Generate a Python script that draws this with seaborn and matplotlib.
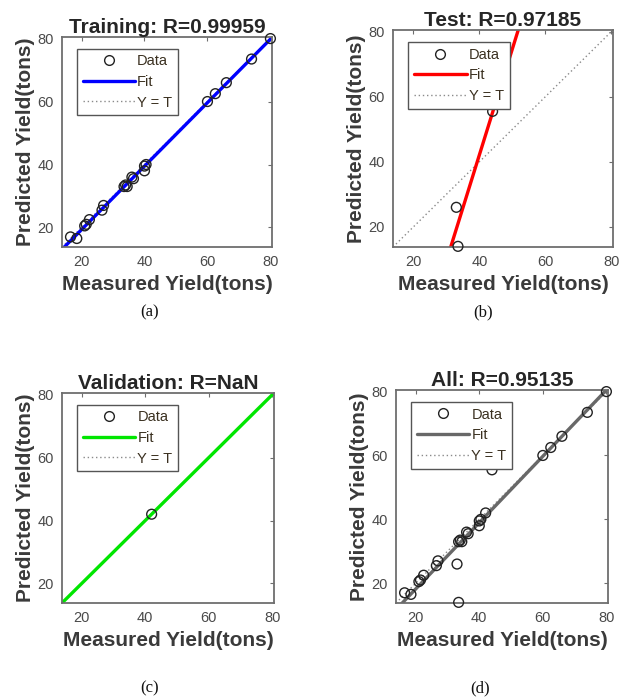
import numpy as np
import pandas as pd
import matplotlib
matplotlib.use("Agg")
import matplotlib.pyplot as plt
from matplotlib.lines import Line2D
import seaborn as sns

# ---------------- data ----------------
train_x = [16.5, 18.5, 21.0, 21.5, 22.5, 26.5, 27.0, 33.5, 34.0, 34.5, 36.0, 36.5, 40.0, 40.0, 40.5, 60.0, 62.5, 66.0, 74.0, 80.0]
train_y = [17.0, 16.5, 20.5, 21.0, 22.5, 25.5, 27.0, 33.0, 33.5, 33.0, 36.0, 35.5, 38.0, 39.5, 40.0, 60.0, 62.5, 66.0, 73.5, 80.0]
test_x = [33.0, 33.5, 44.0]
test_y = [26.0, 14.0, 55.5]
val_x = [42.0]
val_y = [42.0]

titles = ["Training: R=0.99959", "Test: R=0.97185", "Validation: R=NaN", "All: R=0.95135"]
fit_colors = ["#0000ff", "#ff0000", "#00e600", "#686868"]
captions = ["(a)", "(b)", "(c)", "(d)"]
ticks = [20, 40, 60, 80]
lims = [13.8, 80.5]

sns.set_theme(style="white")
plt.rcParams['font.family'] = ['Liberation Sans', 'DejaVu Sans']

fig = plt.figure(figsize=(6.2, 7.0), dpi=100)
W, H = 620.0, 700.0
boxes = [(62, 37, 210, 210), (393, 30, 220, 217), (62, 393, 212, 210), (396, 390, 212, 213)]
cap_pos = [(150, 312), (483, 312), (150, 688), (480, 688)]

all_x = train_x + test_x + val_x
all_y = train_y + test_y + val_y
sets = [(train_x, train_y), (test_x, test_y), (val_x, val_y), (all_x, all_y)]

spine_col = "#6e6e6e"
for i, ((xs, ys), (l, t, w, h)) in enumerate(zip(sets, boxes)):
    ax = fig.add_axes([l / W, 1 - (t + h) / H, w / W, h / H])
    df = pd.DataFrame({"x": xs, "y": ys})
    # fit line
    if len(xs) > 1:
        m, b = np.polyfit(xs, ys, 1)
    else:
        m, b = 1.0, 0.0
    fx = np.array(lims)
    fit_df = pd.DataFrame({"x": fx, "y": m * fx + b})
    # Y = T line
    yt_df = pd.DataFrame({"x": lims, "y": lims})
    sns.lineplot(data=yt_df, x="x", y="y", ax=ax, color="#8a8a8a", lw=1.0, linestyle=(0, (1, 2)), zorder=1)
    sns.lineplot(data=fit_df, x="x", y="y", ax=ax, color=fit_colors[i], lw=2.4, zorder=2)
    sns.scatterplot(data=df, x="x", y="y", ax=ax, marker="o", s=50, facecolor="none",
                    edgecolor="#222222", linewidth=1.0, zorder=3, clip_on=False)
    ax.set_xlim(lims)
    ax.set_ylim(lims)
    ax.set_xticks(ticks)
    ax.set_yticks(ticks)
    ax.tick_params(direction="in", top=True, right=True, length=3, width=0.8, color=spine_col,
                   labelsize=10.5, labelcolor="#4a4a4a", pad=6)
    for s in ax.spines.values():
        s.set_color(spine_col)
        s.set_linewidth(1.3)
    ax.set_title(titles[i], fontsize=15, fontweight="bold", color="#262626", pad=3)
    ax.set_xlabel("Measured Yield(tons)", fontsize=15, fontweight="bold", color="#3a3a3a", labelpad=4)
    ax.set_ylabel("Predicted Yield(tons)", fontsize=15, fontweight="bold", color="#3a3a3a", labelpad=2)
    handles = [
        Line2D([], [], marker="o", linestyle="none", markerfacecolor="none", markeredgecolor="#222222",
               markersize=7, markeredgewidth=1.0),
        Line2D([], [], color=fit_colors[i], lw=2.4),
        Line2D([], [], color="#8a8a8a", lw=1.0, linestyle=(0, (1, 2))),
    ]
    leg = ax.legend(handles, ["Data", "Fit", "Y = T"], loc="upper left", bbox_to_anchor=(0.07, 0.945),
                    fontsize=10.5, frameon=True, fancybox=False, framealpha=1, edgecolor="#555555",
                    handlelength=3.6, handletextpad=0.15, borderpad=0.4, labelspacing=0.45,
                    borderaxespad=0.0, labelcolor="#3a3020")
    leg.get_frame().set_linewidth(1.0)
    fig.text(cap_pos[i][0] / W, 1 - cap_pos[i][1] / H, captions[i], ha="center", va="center",
             fontsize=12, family=["Liberation Serif", "DejaVu Serif"], color="#111111")

fig.savefig("out.png", dpi=100)
